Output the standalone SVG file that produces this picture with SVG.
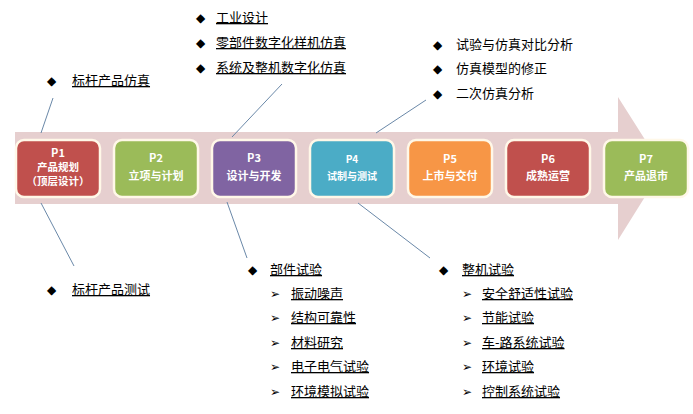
<svg xmlns="http://www.w3.org/2000/svg" width="693" height="414" viewBox="0 0 693 414">
<style>
.t{font-family:"Noto Sans CJK SC","Liberation Sans",sans-serif;font-size:13px;fill:#000;text-decoration:underline}
.u{font-family:"Noto Sans CJK SC","Liberation Sans",sans-serif;font-size:13px;fill:#000}
.b{font-family:"DejaVu Sans",sans-serif;font-size:12px;fill:#000}
.n{font-family:"Noto Sans CJK SC","Liberation Sans",sans-serif;font-size:11px;font-weight:bold;fill:#fff;text-anchor:middle}
.box{stroke:#FFF8E8;stroke-width:2.5}
.ln{stroke:#6A88A8;stroke-width:1;fill:none}
</style>
<rect width="693" height="414" fill="#fff"/>
<polygon points="15,132 618,132 618,97 663,168 618,240 618,204 15,204" fill="#E6CFCF"/>
<g id="connectors">
<line class="ln" x1="41" y1="133" x2="53" y2="98"/>
<line class="ln" x1="41" y1="203" x2="74" y2="266"/>
<line class="ln" x1="232" y1="137" x2="282" y2="84"/>
<line class="ln" x1="227" y1="202" x2="247" y2="258"/>
<line class="ln" x1="376" y1="133" x2="426" y2="100"/>
<line class="ln" x1="358" y1="203" x2="430" y2="258"/>
</g>
<g id="P1"><rect class="box" x="16" y="140" width="84" height="57" rx="8" fill="#C0504D"/><text class="n" x="58" y="157">P1</text><text class="n" x="58" y="171" style="font-size:10.5px">产品规划</text><text class="n" x="58" y="185" style="font-size:10.5px">（顶层设计）</text></g>
<g id="P2"><rect class="box" x="114" y="140" width="84" height="57" rx="8" fill="#9BBB59"/><text class="n" x="156" y="162">P2</text><text class="n" x="156" y="180">立项与计划</text></g>
<g id="P3"><rect class="box" x="212" y="140" width="84" height="57" rx="8" fill="#8064A2"/><text class="n" x="254" y="162">P3</text><text class="n" x="254" y="180">设计与开发</text></g>
<g id="P4"><rect class="box" x="310" y="140" width="84" height="57" rx="8" fill="#4BACC6"/><text class="n" x="352" y="163" style="font-size:10px">P4</text><text class="n" x="352" y="180" style="font-size:10px">试制与测试</text></g>
<g id="P5"><rect class="box" x="408" y="140" width="84" height="57" rx="8" fill="#F79646"/><text class="n" x="450" y="163">P5</text><text class="n" x="450" y="180">上市与交付</text></g>
<g id="P6"><rect class="box" x="506" y="140" width="84" height="57" rx="8" fill="#C0504D"/><text class="n" x="548" y="163">P6</text><text class="n" x="548" y="180">成熟运营</text></g>
<g id="P7"><rect class="box" x="604" y="140" width="84" height="57" rx="8" fill="#9BBB59"/><text class="n" x="646" y="163">P7</text><text class="n" x="646" y="180">产品退市</text></g>
<g id="notes">
<text class="b" x="47" y="85">◆</text><text class="t" x="72" y="85">标杆产品仿真</text>
<text class="b" x="47" y="294">◆</text><text class="t" x="72" y="294">标杆产品测试</text>
<text class="b" x="196" y="22">◆</text><text class="t" x="216" y="22">工业设计</text>
<text class="b" x="196" y="47">◆</text><text class="t" x="216" y="47">零部件数字化样机仿真</text>
<text class="b" x="196" y="72">◆</text><text class="t" x="216" y="72">系统及整机数字化仿真</text>
<text class="b" x="433" y="49">◆</text><text class="u" x="456" y="49">试验与仿真对比分析</text>
<text class="b" x="433" y="73">◆</text><text class="u" x="456" y="73">仿真模型的修正</text>
<text class="b" x="433" y="98">◆</text><text class="u" x="456" y="98">二次仿真分析</text>
<text class="b" x="248" y="274">◆</text><text class="t" x="270" y="274">部件试验</text>
<text class="b" x="270" y="298">➢</text><text class="t" x="291" y="298">振动噪声</text>
<text class="b" x="270" y="322">➢</text><text class="t" x="291" y="322">结构可靠性</text>
<text class="b" x="270" y="347">➢</text><text class="t" x="291" y="347">材料研究</text>
<text class="b" x="270" y="371">➢</text><text class="t" x="291" y="371">电子电气试验</text>
<text class="b" x="270" y="396">➢</text><text class="t" x="291" y="396">环境模拟试验</text>
<text class="b" x="439" y="274">◆</text><text class="t" x="462" y="274">整机试验</text>
<text class="b" x="462" y="298">➢</text><text class="t" x="482" y="298">安全舒适性试验</text>
<text class="b" x="462" y="322">➢</text><text class="t" x="482" y="322">节能试验</text>
<text class="b" x="462" y="347">➢</text><text class="t" x="482" y="347">车-路系统试验</text>
<text class="b" x="462" y="371">➢</text><text class="t" x="482" y="371">环境试验</text>
<text class="b" x="462" y="396">➢</text><text class="t" x="482" y="396">控制系统试验</text>
</g>
</svg>
